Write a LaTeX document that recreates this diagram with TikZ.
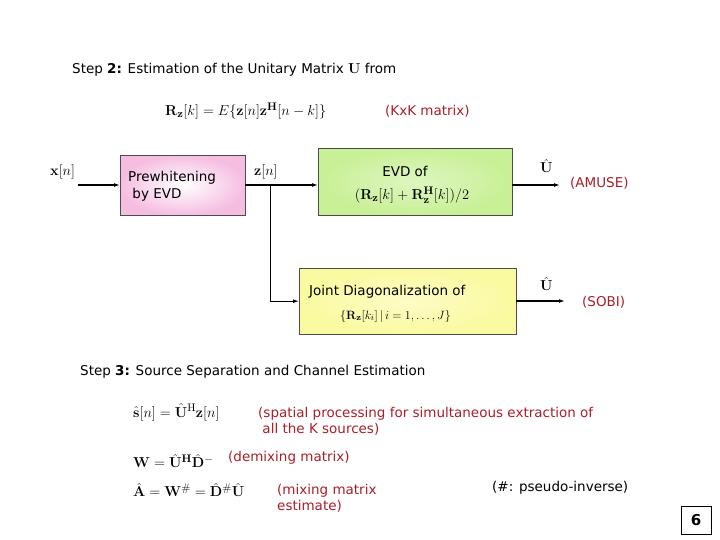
\documentclass[tikz,border=0pt]{standalone}
\usepackage{amsmath,amssymb}
\usepackage[no-math]{fontspec}
\setmainfont{DejaVu Sans}
\usetikzlibrary{arrows.meta}
\definecolor{dred}{RGB}{170,30,40}
\definecolor{pinkb}{RGB}{245,190,225}
\definecolor{greenb}{RGB}{200,240,150}
\definecolor{yellowb}{RGB}{250,250,160}
\newcommand{\mb}[1]{\mathbf{#1}}
\begin{document}
\begin{tikzpicture}[x=1pt,y=-1pt,
  blk/.style={draw=black!70,inner sep=0pt,anchor=north west},
  arr/.style={-{Latex[length=6pt,width=4pt]},line width=1.2pt},
  lab/.style={anchor=west,inner sep=0pt,font=\fontsize{13.5pt}{16pt}\selectfont},
  rlab/.style={lab,text=dred},
  mlab/.style={anchor=west,inner sep=0pt,font=\fontsize{15pt}{17pt}\selectfont}]
\useasboundingbox (0,0) rectangle (720,540);
\node[lab] (t2) at (72,70) {Step \textbf{2:} Estimation of the Unitary Matrix $\mb{U}$ from};
\node[mlab] (rz) at (165,111) {$\mb{R}_{\mb{z}}[k]=E\{\mb{z}[n]\mb{z}^{\mb{H}}[n-k]\}$};
\node[rlab] (kk) at (385,111) {(KxK matrix)};
\node[blk,minimum width=125,minimum height=60,inner color=white,outer color=pinkb] (pw) at (120,155) {};
\node[lab,align=left] at (128,186) {Prewhitening\\[1pt]\ by EVD};
\node[blk,minimum width=194,minimum height=67,inner color=white!40!greenb,outer color=greenb] (evd) at (318,148) {};
\node[lab,anchor=center] at (405,171) {EVD of};
\node[mlab,anchor=center] at (412,195) {$(\mb{R}_{\mb{z}}[k]+\mb{R}_{\mb{z}}^{\mb{H}}[k])/2$};
\node[blk,minimum width=217,minimum height=66,inner color=white!40!yellowb,outer color=yellowb] (jd) at (299,268) {};
\node[lab] at (309,292) {Joint Diagonalization of};
\node[mlab,font=\fontsize{13pt}{15pt}\selectfont] at (340,316) {$\{\mb{R}_{\mb{z}}[k_i]\,|\,i=1,\ldots,J\}$};
\node[mlab] (xn) at (50,172) {$\mb{x}[n]$};
\node[mlab] (zn) at (254,172) {$\mb{z}[n]$};
\coordinate (xs) at (78,185);
\coordinate (j) at (270,185);
\draw[arr] (xs) -- (pw.west|-xs);
\draw[arr] (pw.east|-xs) -- (evd.west|-xs);
\draw[line width=1pt] (j) -- (j|-jd.west);
\draw[arr] (j|-jd.west) -- (jd.west);
\coordinate (e1) at (560,185);
\coordinate (e2) at (565,301);
\draw[arr] (evd.east|-e1) -- (e1);
\draw[arr] (jd.east|-e2) -- (e2);
\node[mlab] (u1) at (540,166) {$\hat{\mb{U}}$};
\node[mlab] (u2) at (540,284) {$\hat{\mb{U}}$};
\node[rlab] (am) at (570,183) {(AMUSE)};
\node[rlab] (so) at (582,302) {(SOBI)};
\node[lab] (t3) at (80,372) {Step \textbf{3:} Source Separation and Channel Estimation};
\node[mlab] (e1t) at (133,412) {$\hat{\mb{s}}[n]=\hat{\mb{U}}^{\mathrm{H}}\mb{z}[n]$};
\node[rlab,align=left] (sp) at (258,421) {(spatial processing for simultaneous extraction of\\\ all the K sources)};
\node[mlab] (e2t) at (133,461) {$\mb{W}=\hat{\mb{U}}^{\mb{H}}\hat{\mb{D}}^{-}$};
\node[rlab] (dm) at (228,458) {(demixing matrix)};
\node[mlab] (e3t) at (133,490) {$\hat{\mb{A}}=\mb{W}^{\#}=\hat{\mb{D}}^{\#}\hat{\mb{U}}$};
\node[rlab,align=left] (mx) at (277,498) {(mixing matrix\\estimate)};
\node[lab] (ps) at (492,488) {(\#: pseudo-inverse)};
\node[draw,line width=1pt,minimum width=30,minimum height=28,font=\fontsize{15pt}{17pt}\selectfont\bfseries] (pg) at (696,520) {6};
\end{tikzpicture}
\end{document}
